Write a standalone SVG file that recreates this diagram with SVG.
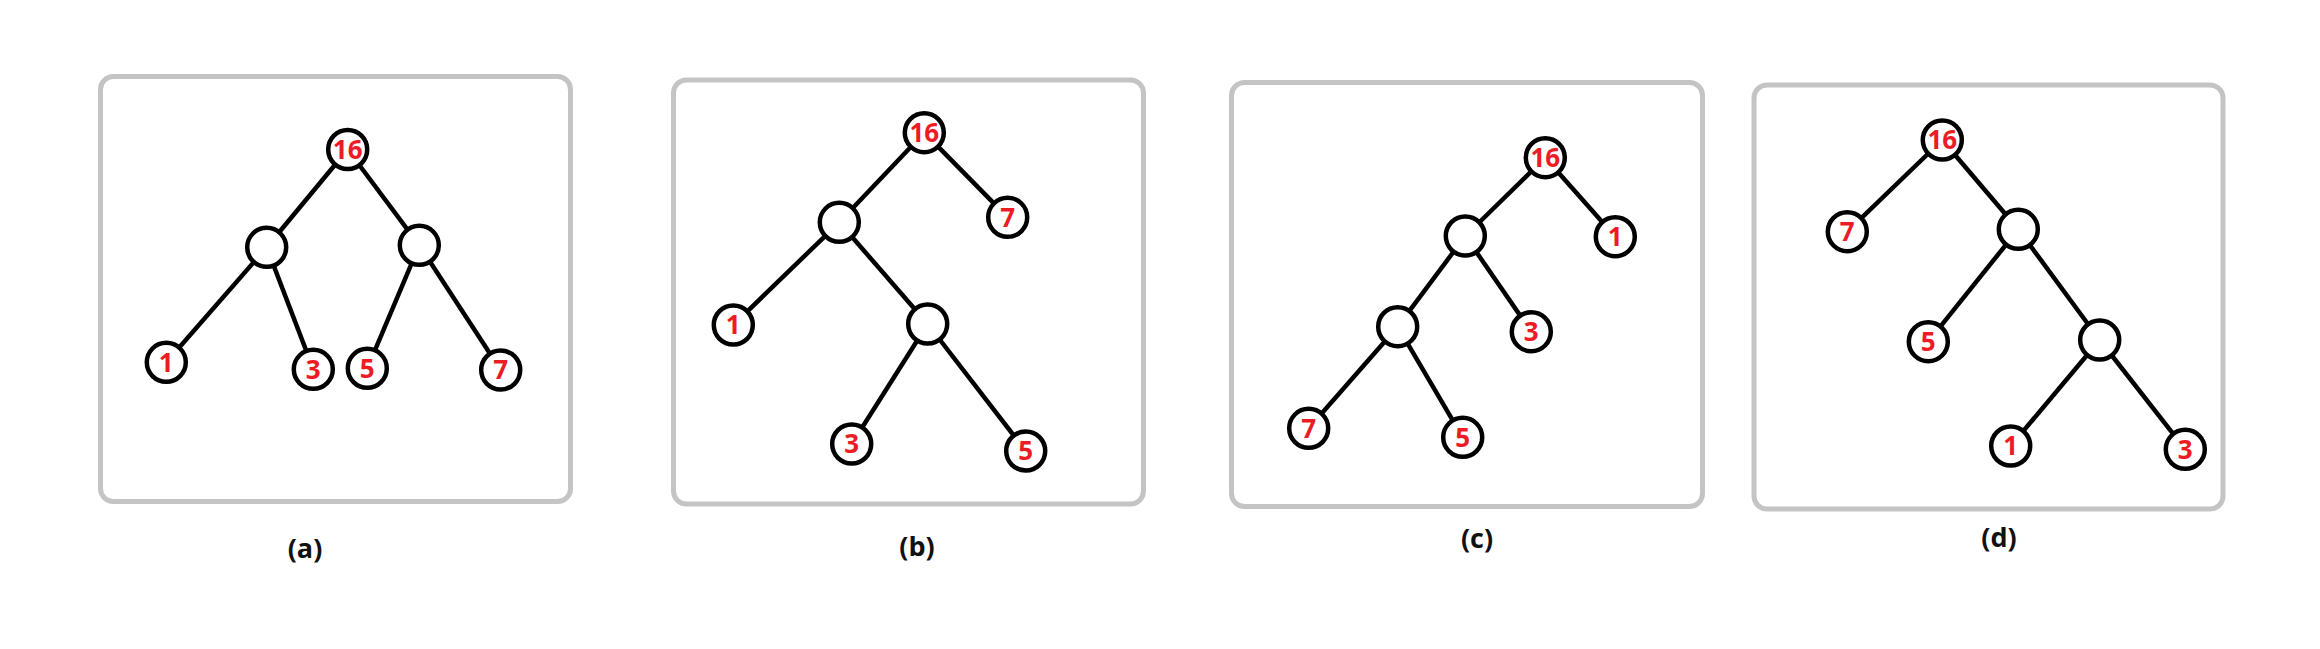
<svg xmlns="http://www.w3.org/2000/svg" width="2320" height="649" viewBox="0 0 2320 649">
<style>
.frame{fill:none;stroke:#c4c4c4;stroke-width:5}
.edge{stroke:#000;stroke-width:4.5;fill:none}
.node circle{fill:#fff;stroke:#000;stroke-width:4.5}
.node text{font-family:"Open Sans","Noto Sans","Liberation Sans",sans-serif;font-weight:bold;font-size:26px;fill:#ed1c24;text-anchor:middle}
.cap{font-family:"Open Sans","Noto Sans","Liberation Sans",sans-serif;font-weight:bold;font-size:27px;fill:#111;text-anchor:middle}
</style>
<rect width="2320" height="649" fill="#fff"/>
<!-- panel frames -->
<rect class="frame" x="100.5" y="76.5" width="470" height="425" rx="13"/>
<rect class="frame" x="673.5" y="80" width="470" height="424" rx="13"/>
<rect class="frame" x="1231.5" y="82.5" width="471" height="424" rx="13"/>
<rect class="frame" x="1754" y="85" width="469" height="424" rx="13"/>
<g id="connectors">
<!-- a -->
<line class="edge" x1="347.7" y1="149.5" x2="266.7" y2="247.3"/>
<line class="edge" x1="347.7" y1="149.5" x2="419.3" y2="245.3"/>
<line class="edge" x1="266.7" y1="247.3" x2="166.3" y2="362.3"/>
<line class="edge" x1="266.7" y1="247.3" x2="313.3" y2="369.3"/>
<line class="edge" x1="419.3" y1="245.3" x2="367.3" y2="368.3"/>
<line class="edge" x1="419.3" y1="245.3" x2="500.7" y2="370"/>
<!-- b -->
<line class="edge" x1="924.3" y1="132.7" x2="839.3" y2="222.3"/>
<line class="edge" x1="924.3" y1="132.7" x2="1007.7" y2="217.3"/>
<line class="edge" x1="839.3" y1="222.3" x2="733.3" y2="325"/>
<line class="edge" x1="839.3" y1="222.3" x2="927.7" y2="324"/>
<line class="edge" x1="927.7" y1="324" x2="851.7" y2="444"/>
<line class="edge" x1="927.7" y1="324" x2="1025.7" y2="451"/>
<!-- c -->
<line class="edge" x1="1545.3" y1="157.7" x2="1465.3" y2="236"/>
<line class="edge" x1="1545.3" y1="157.7" x2="1615.3" y2="236.7"/>
<line class="edge" x1="1465.3" y1="236" x2="1397.7" y2="326.7"/>
<line class="edge" x1="1465.3" y1="236" x2="1531.3" y2="331.7"/>
<line class="edge" x1="1397.7" y1="326.7" x2="1308.7" y2="428.3"/>
<line class="edge" x1="1397.7" y1="326.7" x2="1462.7" y2="437.3"/>
<!-- d -->
<line class="edge" x1="1942.3" y1="140" x2="1847.3" y2="231.7"/>
<line class="edge" x1="1942.3" y1="140" x2="2018.3" y2="229.3"/>
<line class="edge" x1="2018.3" y1="229.3" x2="1928.3" y2="341.7"/>
<line class="edge" x1="2018.3" y1="229.3" x2="2099.7" y2="340"/>
<line class="edge" x1="2099.7" y1="340" x2="2010.7" y2="446"/>
<line class="edge" x1="2099.7" y1="340" x2="2185.3" y2="449.3"/>
</g>
<!-- panel a nodes -->
<g id="a-16" class="node"><circle cx="347.7" cy="149.5" r="19.5"/><text x="347.7" y="158.8">16</text></g>
<g id="a-l" class="node"><circle cx="266.7" cy="247.3" r="19.5"/></g>
<g id="a-r" class="node"><circle cx="419.3" cy="245.3" r="19.5"/></g>
<g id="a-1" class="node"><circle cx="166.3" cy="362.3" r="19.5"/><text x="166.3" y="371.6">1</text></g>
<g id="a-3" class="node"><circle cx="313.3" cy="369.3" r="19.5"/><text x="313.3" y="378.6">3</text></g>
<g id="a-5" class="node"><circle cx="367.3" cy="368.3" r="19.5"/><text x="367.3" y="377.6">5</text></g>
<g id="a-7" class="node"><circle cx="500.7" cy="370" r="19.5"/><text x="500.7" y="379.3">7</text></g>
<!-- panel b nodes -->
<g id="b-16" class="node"><circle cx="924.3" cy="132.7" r="19.5"/><text x="924.3" y="142">16</text></g>
<g id="b-i1" class="node"><circle cx="839.3" cy="222.3" r="19.5"/></g>
<g id="b-7" class="node"><circle cx="1007.7" cy="217.3" r="19.5"/><text x="1007.7" y="226.6">7</text></g>
<g id="b-1" class="node"><circle cx="733.3" cy="325" r="19.5"/><text x="733.3" y="334.3">1</text></g>
<g id="b-i2" class="node"><circle cx="927.7" cy="324" r="19.5"/></g>
<g id="b-3" class="node"><circle cx="851.7" cy="444" r="19.5"/><text x="851.7" y="453.3">3</text></g>
<g id="b-5" class="node"><circle cx="1025.7" cy="451" r="19.5"/><text x="1025.7" y="460.3">5</text></g>
<!-- panel c nodes -->
<g id="c-16" class="node"><circle cx="1545.3" cy="157.7" r="19.5"/><text x="1545.3" y="167">16</text></g>
<g id="c-i1" class="node"><circle cx="1465.3" cy="236" r="19.5"/></g>
<g id="c-1" class="node"><circle cx="1615.3" cy="236.7" r="19.5"/><text x="1615.3" y="246">1</text></g>
<g id="c-i2" class="node"><circle cx="1397.7" cy="326.7" r="19.5"/></g>
<g id="c-3" class="node"><circle cx="1531.3" cy="331.7" r="19.5"/><text x="1531.3" y="341">3</text></g>
<g id="c-7" class="node"><circle cx="1308.7" cy="428.3" r="19.5"/><text x="1308.7" y="437.6">7</text></g>
<g id="c-5" class="node"><circle cx="1462.7" cy="437.3" r="19.5"/><text x="1462.7" y="446.6">5</text></g>
<!-- panel d nodes -->
<g id="d-16" class="node"><circle cx="1942.3" cy="140" r="19.5"/><text x="1942.3" y="149.3">16</text></g>
<g id="d-7" class="node"><circle cx="1847.3" cy="231.7" r="19.5"/><text x="1847.3" y="241">7</text></g>
<g id="d-i1" class="node"><circle cx="2018.3" cy="229.3" r="19.5"/></g>
<g id="d-5" class="node"><circle cx="1928.3" cy="341.7" r="19.5"/><text x="1928.3" y="351">5</text></g>
<g id="d-i2" class="node"><circle cx="2099.7" cy="340" r="19.5"/></g>
<g id="d-1" class="node"><circle cx="2010.7" cy="446" r="19.5"/><text x="2010.7" y="455.3">1</text></g>
<g id="d-3" class="node"><circle cx="2185.3" cy="449.3" r="19.5"/><text x="2185.3" y="458.6">3</text></g>
<!-- captions -->
<text class="cap" x="305" y="558">(a)</text>
<text class="cap" x="917" y="556">(b)</text>
<text class="cap" x="1477" y="548">(c)</text>
<text class="cap" x="1999" y="547">(d)</text>
</svg>
